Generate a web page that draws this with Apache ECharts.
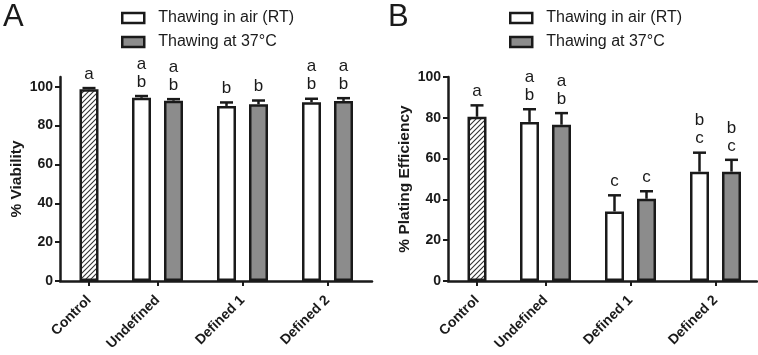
<!DOCTYPE html>
<html>
<head>
<meta charset="utf-8">
<script src="https://cdn.jsdelivr.net/npm/echarts@6/dist/echarts.min.js"></script>
<style>
  html, body { margin: 0; padding: 0; background: #fff; }
  #chart { width: 758px; height: 355px; }
</style>
</head>
<body>
<div id="chart"></div>
<script>
// categories on the x axis (Control stands alone, the others have two bars)
const categories = ['Control', 'Undefined', 'Defined 1', 'Defined 2'];
const seriesNames = ['Thawing in air (RT)', 'Thawing at 37°C'];

// panel A: % viability
const viabControl = [98.7];
const viabControlSd = [0.6];
const viabControlLetters = ['a'];
const viabAir = [94.3, 90.1, 92.0];
const viabAirSd = [0.9, 1.8, 1.8];
const viabAirLetters = ['a\nb', 'b', 'a\nb'];
const viab37 = [92.8, 91.0, 92.7];
const viab37Sd = [0.8, 1.9, 1.4];
const viab37Letters = ['a\nb', 'b', 'a\nb'];

// panel B: % plating efficiency
const plateControl = [80.5];
const plateControlSd = [5.6];
const plateControlLetters = ['a'];
const plateAir = [78.0, 34.1, 53.6];
const plateAirSd = [6.2, 7.9, 9.3];
const plateAirLetters = ['a\nb', 'c', 'b\nc'];
const plate37 = [76.6, 40.3, 53.6];
const plate37Sd = [5.7, 3.7, 5.8];
const plate37Letters = ['a\nb', 'c', 'b\nc'];

const yTicks = [0, 20, 40, 60, 80, 100];

const FONT = 'Liberation Sans, Arial, sans-serif';
const INK = '#1a1a1a';

// x position (in axis units = px) of each category centre
function catX(i) { return i === 0 ? 29 : 97.5 + (i - 1) * 85; }
const tickPos = categories.map((c, i) => catX(i));
const OFF = 16;

// hatch pattern for the control bar
const hatch = document.createElement('canvas');
hatch.width = hatch.height = 5;
const hc = hatch.getContext('2d');
hc.fillStyle = '#fff';
hc.fillRect(0, 0, 5, 5);
hc.strokeStyle = '#333';
hc.lineWidth = 1.1;
hc.beginPath();
hc.moveTo(0, 5); hc.lineTo(5, 0);
hc.moveTo(-1, 1); hc.lineTo(1, -1);
hc.moveTo(4, 6); hc.lineTo(6, 4);
hc.stroke();

const chart = echarts.init(document.getElementById('chart'));

function panel(p, d) {
  const barBase = {
    type: 'bar', xAxisIndex: p, yAxisIndex: p,
    barWidth: 19, barGap: '-100%',
    itemStyle: { borderColor: INK, borderWidth: 2.5 },
    emphasis: { disabled: true }
  };
  const errRows = [];
  const letters = [];
  errRows.push([catX(0), d.ctrl[0], d.ctrlSd[0]]); letters.push(d.ctrlL[0]);
  d.air.forEach((v, i) => { errRows.push([catX(i + 1) - OFF, v, d.airSd[i]]); letters.push(d.airL[i]); });
  d.hot.forEach((v, i) => { errRows.push([catX(i + 1) + OFF, v, d.hotSd[i]]); letters.push(d.hotL[i]); });

  return [
    Object.assign({}, barBase, {
      name: 'Control',
      data: [[catX(0), d.ctrl[0]]],
      itemStyle: { color: { image: hatch, repeat: 'repeat' }, borderColor: INK, borderWidth: 2.5 }
    }),
    Object.assign({}, barBase, {
      name: seriesNames[0],
      data: d.air.map((v, i) => [catX(i + 1) - OFF, v]),
      itemStyle: { color: '#ffffff', borderColor: INK, borderWidth: 2.5 }
    }),
    Object.assign({}, barBase, {
      name: seriesNames[1],
      data: d.hot.map((v, i) => [catX(i + 1) + OFF, v]),
      itemStyle: { color: '#8c8c8c', borderColor: INK, borderWidth: 2.5 }
    }),
    {
      type: 'custom', xAxisIndex: p, yAxisIndex: p, z: 5, clip: false,
      data: errRows,
      renderItem: function (params, api) {
        const x = api.value(0), v = api.value(1), sd = api.value(2);
        const b = api.coord([x, v]);
        const t = api.coord([x, v + sd]);
        return {
          type: 'group',
          children: [
            { type: 'line', shape: { x1: b[0], y1: b[1], x2: t[0], y2: t[1] }, style: { stroke: INK, lineWidth: 2.5 } },
            { type: 'line', shape: { x1: t[0] - 6.5, y1: t[1], x2: t[0] + 6.5, y2: t[1] }, style: { stroke: INK, lineWidth: 2.5 } },
            { type: 'text', x: t[0], y: t[1] - 5, style: {
                text: letters[params.dataIndex], fill: INK, fontSize: 17, lineHeight: 18,
                fontFamily: FONT, align: 'center', verticalAlign: 'bottom' } }
          ]
        };
      }
    }
  ];
}

function xAxis(p, max) {
  return {
    type: 'value', gridIndex: p, min: 0, max: max,
    axisLine: { lineStyle: { color: INK, width: 2.5 } },
    splitLine: { show: false },
    axisTick: { customValues: tickPos, length: 5, lineStyle: { color: INK, width: 2 } },
    axisLabel: {
      customValues: tickPos, rotate: 45, margin: 17,
      color: INK, fontSize: 14, fontWeight: 'bold', fontFamily: FONT,
      formatter: function (v) { return categories[tickPos.indexOf(v)] || ''; }
    }
  };
}

function yAxis(p, max, name) {
  return {
    type: 'value', gridIndex: p, min: 0, max: max, interval: 20,
    name: name, nameLocation: 'middle', nameGap: 35,
    nameTextStyle: { color: INK, fontSize: 15.5, fontWeight: 'bold', fontFamily: FONT },
    axisLine: { show: true, lineStyle: { color: INK, width: 2.5 } },
    splitLine: { show: false },
    axisTick: { show: true, customValues: yTicks, length: 5, lineStyle: { color: INK, width: 2 } },
    axisLabel: { customValues: yTicks, margin: 7, color: INK, fontSize: 14, fontWeight: 'bold', fontFamily: FONT }
  };
}

function legend(left) {
  return {
    orient: 'vertical', left: left, top: 10, padding: 0,
    data: seriesNames, icon: 'rect',
    itemWidth: 22, itemHeight: 10, itemGap: 8,
    selectedMode: false,
    itemStyle: { borderColor: INK, borderWidth: 2.5 },
    textStyle: { color: INK, fontSize: 16, lineHeight: 16, fontFamily: FONT, padding: [0, 0, 0, 9] }
  };
}

const option = {
  animation: false,
  backgroundColor: '#fff',
  textStyle: { fontFamily: FONT },
  title: [
    { text: 'A', left: -2, top: -3, textStyle: { fontSize: 31, fontWeight: 'normal', color: INK, fontFamily: FONT } },
    { text: 'B', left: 383, top: -3, textStyle: { fontSize: 31, fontWeight: 'normal', color: INK, fontFamily: FONT } }
  ],
  legend: [legend(121), legend(509)],
  grid: [
    { left: 60, width: 312, top: 77, height: 204 },
    { left: 448, width: 309, top: 77, height: 204 }
  ],
  xAxis: [xAxis(0, 312), xAxis(1, 309)],
  yAxis: [yAxis(0, 105, '% Viability'), yAxis(1, 100, '% Plating Efficiency')],
  series: panel(0, {
    ctrl: viabControl, ctrlSd: viabControlSd, ctrlL: viabControlLetters,
    air: viabAir, airSd: viabAirSd, airL: viabAirLetters,
    hot: viab37, hotSd: viab37Sd, hotL: viab37Letters
  }).concat(panel(1, {
    ctrl: plateControl, ctrlSd: plateControlSd, ctrlL: plateControlLetters,
    air: plateAir, airSd: plateAirSd, airL: plateAirLetters,
    hot: plate37, hotSd: plate37Sd, hotL: plate37Letters
  }))
};

chart.setOption(option);
</script>
</body>
</html>
